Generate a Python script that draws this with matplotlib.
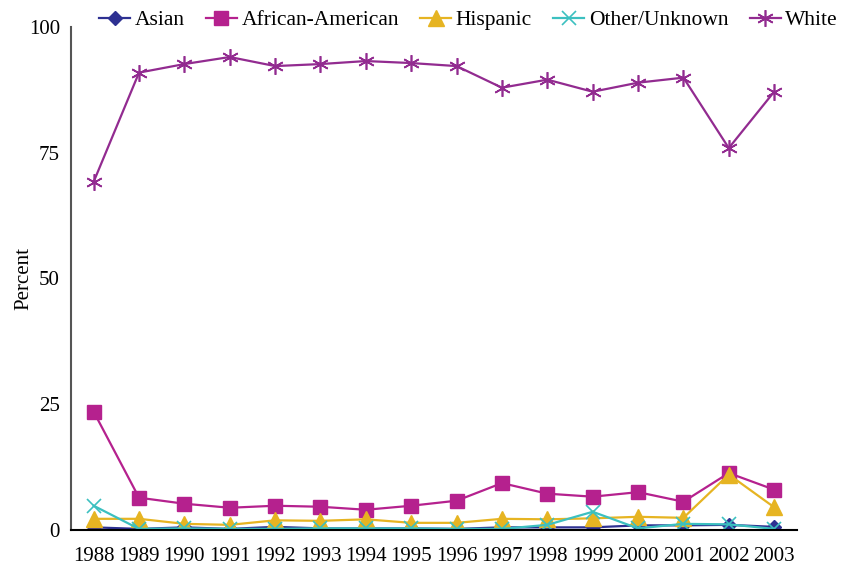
import matplotlib.pyplot as plt

plt.rcParams['font.family'] = ['Liberation Serif', 'DejaVu Serif']

years = list(range(1988, 2004))

asian = [0.5, 0.2, 0.5, 0.2, 0.6, 0.3, 0.3, 0.3, 0.2, 0.5, 0.5, 0.5, 0.9, 0.9, 1.0, 0.6]
african_american = [23.5, 6.4, 5.2, 4.4, 4.8, 4.6, 4.0, 4.8, 5.8, 9.3, 7.2, 6.6, 7.5, 5.6, 11.3, 8.0]
hispanic = [2.2, 2.2, 1.2, 1.0, 1.9, 1.8, 2.1, 1.4, 1.4, 2.2, 2.1, 2.3, 2.6, 2.4, 11.0, 4.5]
other = [4.8, 0.2, 0.3, 0.2, 0.2, 0.3, 0.3, 0.3, 0.2, 0.2, 1.0, 3.6, 0.3, 1.2, 1.1, 0.2]
white = [69.2, 90.9, 92.6, 94.0, 92.2, 92.6, 93.2, 92.8, 92.2, 87.9, 89.5, 87.1, 88.9, 89.9, 75.9, 87.1]

fig = plt.figure(figsize=(8.45, 5.71), dpi=100)
ax = fig.add_axes([0.084, 0.072, 0.859, 0.881])

ax.plot(years, asian, color='#2e3192', marker='D', markersize=7, lw=1.6, label='Asian')
ax.plot(years, african_american, color='#b5218e', marker='s', markersize=10, lw=1.6,
        label='African-American')
ax.plot(years, hispanic, color='#e6b422', marker='^', markersize=11, lw=1.6, label='Hispanic')
ax.plot(years, other, color='#3cc0c0', marker='x', markersize=10, mew=1.2, lw=1.6,
        label='Other/Unknown')
ax.plot(years, white, color='#922b90', marker=(6, 2, 0), markersize=12, mew=1.2, lw=1.6,
        label='White')

ax.set_xlim(1987.5, 2003.5)
ax.set_ylim(0, 100)
ax.set_xticks(years)
ax.set_yticks([0, 25, 50, 75, 100])
ax.tick_params(axis='x', length=0, labelsize=15, pad=12)
ax.tick_params(axis='y', length=0, labelsize=15, pad=8)
ax.set_ylabel('Percent', fontsize=15, labelpad=-3)

for s in ['top', 'right']:
    ax.spines[s].set_visible(False)
ax.spines['left'].set_color('#555555')
ax.spines['left'].set_linewidth(1.5)
ax.spines['bottom'].set_color('black')
ax.spines['bottom'].set_linewidth(1.5)

fig.legend(loc='upper left', bbox_to_anchor=(0.107, 0.997), ncol=5, frameon=False,
           fontsize=15.5, handlelength=1.44, handletextpad=0.22, columnspacing=0.98,
           borderaxespad=0)

fig.savefig('out.png', dpi=100)
